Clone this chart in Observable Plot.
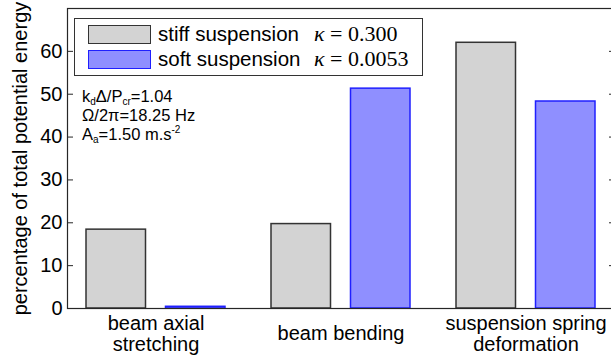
<!DOCTYPE html>
<html>
<head>
<meta charset="utf-8">
<script src="https://cdn.jsdelivr.net/npm/d3@7"></script>
<script src="https://cdn.jsdelivr.net/npm/@observablehq/plot@0.6"></script>
<style>
  html, body { margin: 0; padding: 0; background: #fff; overflow: hidden; }
  #wrap { position: relative; width: 615px; height: 356px; font-family: "Liberation Sans", Arial, sans-serif; }
  #legend { position: absolute; left: 74px; top: 18px; width: 349px; height: 58px; border: 1px solid #333; background: #fff; box-sizing: border-box; }
  .sw { position: absolute; left: 13px; width: 63px; height: 19px; box-sizing: border-box; border: 1.5px solid; }
  .lt { position: absolute; left: 83px; font-size: 20.5px; line-height: 21px; color: #000; white-space: nowrap; }
  .lk { position: absolute; left: 239px; font-family: "Liberation Serif", "DejaVu Serif", serif; font-size: 22px; line-height: 21px; white-space: nowrap; color: #000; }
  .lk i { font-size: 22px; }
  #note { position: absolute; left: 82px; top: 87px; font-size: 16.5px; color: #000; white-space: nowrap; }
  #note div { height: 19px; line-height: 19px; }
  #note sub, #note sup { font-size: 10px; line-height: 0; vertical-align: baseline; position: relative; }
  #note sub { top: 3px; }
  #note sup { top: -7px; }
</style>
</head>
<body>
<div id="wrap">
  <div id="chart"></div>
  <div id="legend"></div>
  <div id="note"></div>
</div>
<script>
const categories = ["beam axial\nstretching", "beam bending", "suspension spring\ndeformation"];
const stiffValues = [18.4, 19.7, 62.0];
const softValues = [0.4, 51.3, 48.3];
const yTicks = [0, 10, 20, 30, 40, 50, 60];
const seriesNames = ["stiff suspension", "soft suspension"];
const kappaValues = ["0.300", "0.0053"];
const seriesFill = ["#d3d3d3", "#8f8fff"];
const seriesStroke = ["#333333", "#1f1fff"];
const noteLines = ["k<sub>d</sub>Δ/P<sub>cr</sub>=1.04", "Ω/2π=18.25 Hz", "A<sub>a</sub>=1.50 m.s<sup>-2</sup>"];

const stiffData = categories.map((c, i) => ({cat: c, value: stiffValues[i]}));
const softData = categories.map((c, i) => ({cat: c, value: softValues[i]}));

const chart = Plot.plot({
  width: 615,
  height: 356,
  marginLeft: 67,
  marginRight: 1,
  marginTop: 8,
  marginBottom: 48,
  style: {fontFamily: "'Liberation Sans', Arial, sans-serif", fontSize: "20px", color: "#000", background: "#fff"},
  x: {domain: categories, paddingInner: 0.251, paddingOuter: 0.103, label: null},
  y: {domain: [0, 70], label: null},
  marks: [
    Plot.barY(stiffData, {x: "cat", y: "value", fill: seriesFill[0], stroke: seriesStroke[0], strokeWidth: 1.5, insetRight: 79.5}),
    Plot.barY(softData, {x: "cat", y: "value", fill: seriesFill[1], stroke: seriesStroke[1], strokeWidth: 1.5, insetLeft: 79.5}),
    Plot.frame({stroke: "#262626", strokeWidth: 1.2}),
    Plot.axisY({ticks: yTicks, tickSize: -6, tickPadding: 11, stroke: "#262626", label: "percentage of total potential energy", labelAnchor: "center", labelOffset: 55, labelArrow: "none"}),
    Plot.axisY({anchor: "right", ticks: yTicks, tickSize: -6, stroke: "#262626", tickFormat: () => "", label: null}),
    Plot.axisX({tickSize: 0, tickPadding: 25, lineAnchor: "middle", lineHeight: 1.05, label: null})
  ]
});
document.getElementById("chart").appendChild(chart);

const legend = document.getElementById("legend");
seriesNames.forEach((name, i) => {
  const top = 6 + i * 25;
  const sw = document.createElement("div");
  sw.className = "sw";
  sw.style.top = top + "px";
  sw.style.background = seriesFill[i];
  sw.style.borderColor = seriesStroke[i];
  legend.appendChild(sw);
  const t = document.createElement("div");
  t.className = "lt";
  t.style.top = (top - 2) + "px";
  t.textContent = name;
  legend.appendChild(t);
  const k = document.createElement("div");
  k.className = "lk";
  k.style.top = (top - 2) + "px";
  k.innerHTML = "<i>κ</i> = " + kappaValues[i];
  legend.appendChild(k);
});
const note = document.getElementById("note");
noteLines.forEach(line => {
  const d = document.createElement("div");
  d.innerHTML = line;
  note.appendChild(d);
});
</script>
</body>
</html>
